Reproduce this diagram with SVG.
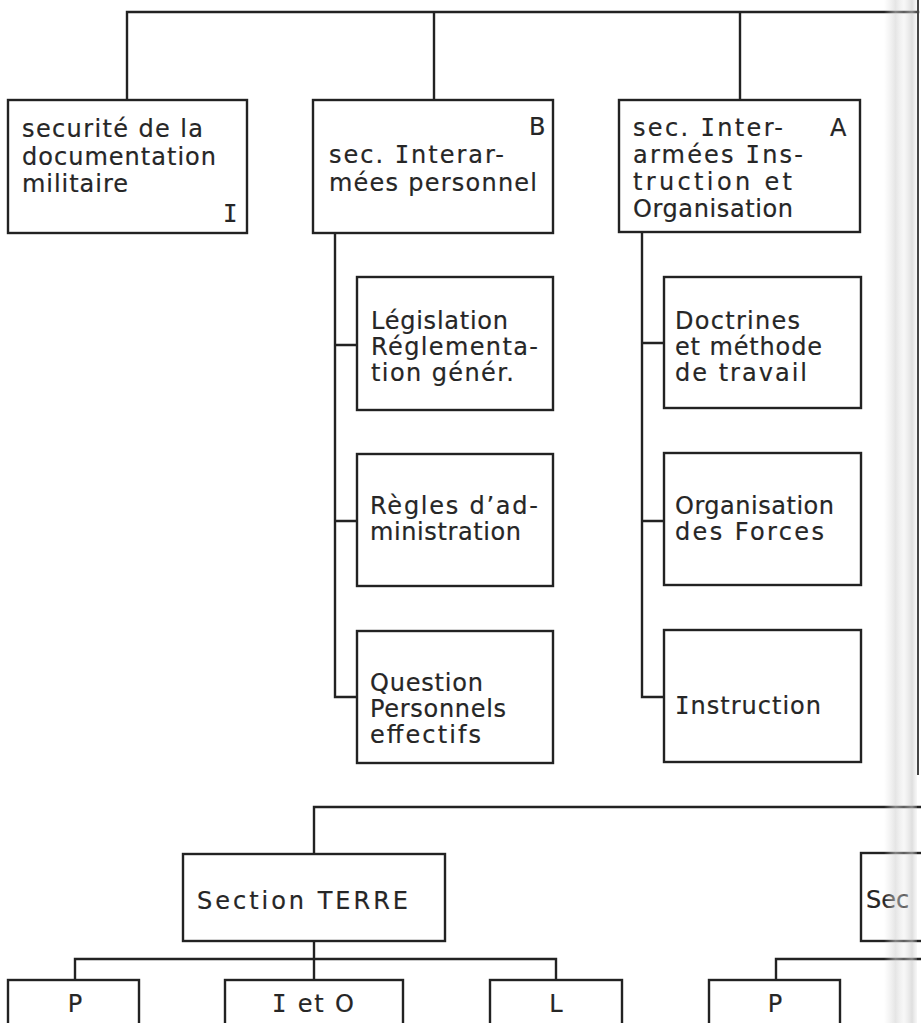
<svg xmlns="http://www.w3.org/2000/svg" width="921" height="1023" viewBox="0 0 921 1023">
<defs>
<linearGradient id="band" x1="0" y1="0" x2="1" y2="0">
<stop offset="0" stop-color="#d8d8d8" stop-opacity="0"/>
<stop offset="0.35" stop-color="#d0d0d0" stop-opacity="0.55"/>
<stop offset="0.6" stop-color="#e6e6e6" stop-opacity="0.3"/>
<stop offset="0.85" stop-color="#c8c8c8" stop-opacity="0.6"/>
<stop offset="1" stop-color="#d8d8d8" stop-opacity="0.2"/>
</linearGradient>
</defs>
<style>
.box{fill:#fff;stroke:#222;stroke-width:2.4}
.ln{fill:none;stroke:#222;stroke-width:2.4;stroke-linecap:square}
text{font-family:"DejaVu Sans","Noto Sans",sans-serif;font-size:24px;fill:#262626;stroke:#262626;stroke-width:0.2}
.si{font-family:"DejaVu Sans Mono","Liberation Mono",monospace}
.mid{text-anchor:middle}
</style>
<rect width="921" height="1023" fill="#fff"/>

<g id="connectors">
<path class="ln" d="M127,12 H918 M127,12 V100 M434,12 V100 M740,12 V100"/>
<path class="ln" d="M335,233 V697 M335,345 H357 M335,521 H357 M335,697 H357"/>
<path class="ln" d="M642,232 V697 M642,343 H664 M642,521 H664 M642,697 H664"/>
<path class="ln" d="M314,807 H921 M314,807 V854"/>
<path class="ln" d="M314,941 V959 M75,959 H556 M75,959 V980 M314,959 V980 M556,959 V980"/>
<path class="ln" d="M776,959 H921 M776,959 V980"/>
</g>

<g id="n-securite">
<rect class="box" x="8" y="100" width="239" height="133"/>
<text x="22" y="137" textLength="181" lengthAdjust="spacing">securité de la</text>
<text x="22" y="165" textLength="194" lengthAdjust="spacing">documentation</text>
<text x="22" y="192" textLength="106" lengthAdjust="spacing">militaire</text>
<text x="223" y="222" class="si">I</text>
</g>

<g id="n-B">
<rect class="box" x="313" y="100" width="240" height="133"/>
<text x="529" y="135">B</text>
<text x="329" y="163" textLength="175" lengthAdjust="spacing">sec. <tspan class="si">I</tspan>nterar-</text>
<text x="329" y="191" textLength="208" lengthAdjust="spacing">mées personnel</text>
</g>

<g id="n-A">
<rect class="box" x="619" y="100" width="241" height="132"/>
<text x="830" y="136">A</text>
<text x="633" y="136" textLength="150" lengthAdjust="spacing">sec. <tspan class="si">I</tspan>nter-</text>
<text x="633" y="163" textLength="170" lengthAdjust="spacing">armées <tspan class="si">I</tspan>ns-</text>
<text x="633" y="190" textLength="159" lengthAdjust="spacing">truction et</text>
<text x="633" y="217" textLength="160" lengthAdjust="spacing">Organisation</text>
</g>

<g id="n-legislation">
<rect class="box" x="357" y="277" width="196" height="133"/>
<text x="371" y="329" textLength="137" lengthAdjust="spacing">Législation</text>
<text x="371" y="355" textLength="167" lengthAdjust="spacing">Réglementa-</text>
<text x="371" y="381" textLength="143" lengthAdjust="spacing">tion génér.</text>
</g>

<g id="n-regles">
<rect class="box" x="357" y="454" width="196" height="132"/>
<text x="370" y="514" textLength="168" lengthAdjust="spacing">Règles d’ad-</text>
<text x="370" y="540" textLength="151" lengthAdjust="spacing">ministration</text>
</g>

<g id="n-question">
<rect class="box" x="357" y="631" width="196" height="132"/>
<text x="370" y="691" textLength="113" lengthAdjust="spacing">Question</text>
<text x="370" y="717" textLength="136" lengthAdjust="spacing">Personnels</text>
<text x="370" y="743" textLength="111" lengthAdjust="spacing">effectifs</text>
</g>

<g id="n-doctrines">
<rect class="box" x="664" y="277" width="197" height="131"/>
<text x="675" y="329" textLength="125" lengthAdjust="spacing">Doctrines</text>
<text x="675" y="355" textLength="147" lengthAdjust="spacing">et méthode</text>
<text x="675" y="381" textLength="132" lengthAdjust="spacing">de travail</text>
</g>

<g id="n-organisation">
<rect class="box" x="664" y="453" width="197" height="132"/>
<text x="675" y="514" textLength="159" lengthAdjust="spacing">Organisation</text>
<text x="675" y="540" textLength="149" lengthAdjust="spacing">des Forces</text>
</g>

<g id="n-instruction">
<rect class="box" x="664" y="630" width="197" height="132"/>
<text x="675" y="714" textLength="146" lengthAdjust="spacing"><tspan class="si">I</tspan>nstruction</text>
</g>

<g id="n-terre">
<rect class="box" x="183" y="854" width="262" height="87"/>
<text x="197" y="909" textLength="211" lengthAdjust="spacing">Section TERRE</text>
</g>

<g id="n-sec">
<rect class="box" x="861" y="853" width="80" height="88"/>
<text x="866" y="908">Sec</text>
</g>

<g id="n-P1">
<rect class="box" x="8" y="980" width="131" height="60"/>
<text class="mid" x="75" y="1012">P</text>
</g>
<g id="n-IetO">
<rect class="box" x="225" y="980" width="178" height="60"/>
<text class="mid" x="313" y="1012" textLength="82" lengthAdjust="spacing"><tspan class="si">I</tspan> et O</text>
</g>
<g id="n-L">
<rect class="box" x="490" y="980" width="132" height="60"/>
<text class="mid" x="556" y="1012">L</text>
</g>
<g id="n-P2">
<rect class="box" x="709" y="980" width="131" height="60"/>
<text class="mid" x="775" y="1012">P</text>
</g>

<g id="page-edge">
<rect x="884" y="0" width="33" height="1023" fill="url(#band)"/>
<line x1="918" y1="0" x2="918" y2="775" stroke="#444" stroke-width="2"/>
</g>
</svg>
